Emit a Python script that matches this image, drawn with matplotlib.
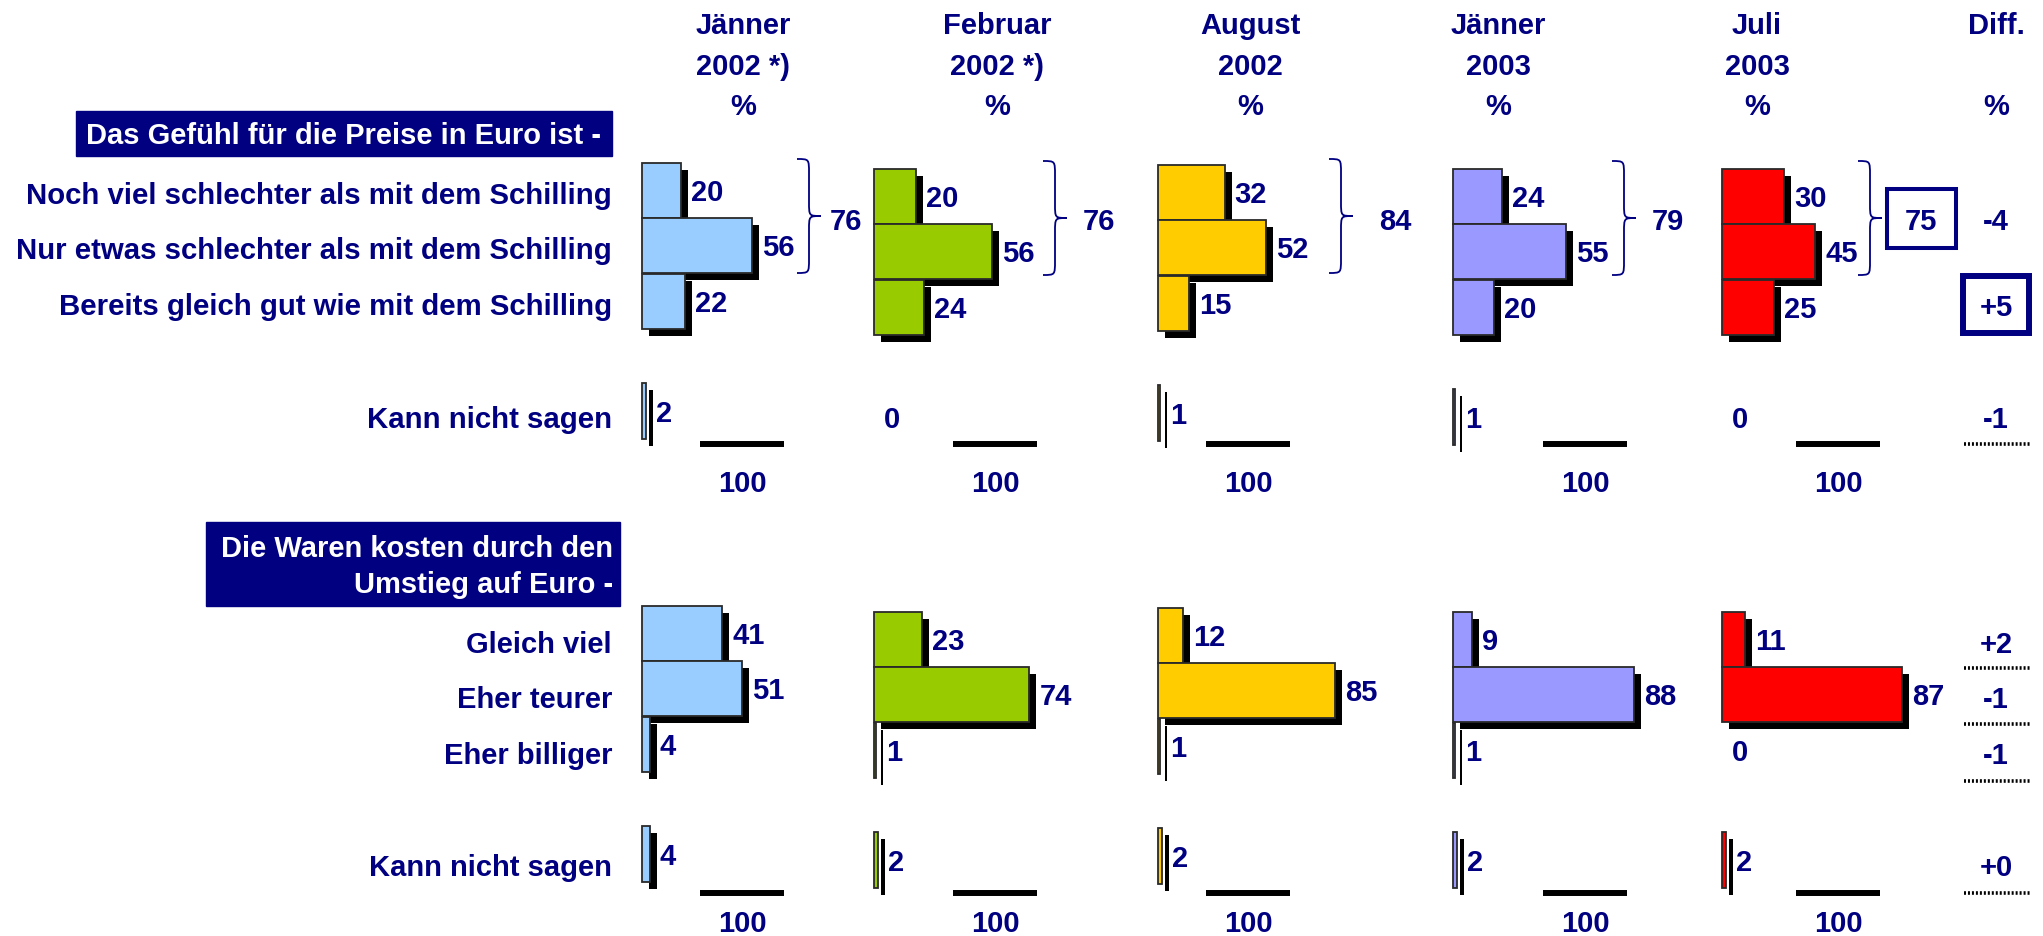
import matplotlib.pyplot as plt
from matplotlib.patches import Rectangle, PathPatch
from matplotlib.path import Path

plt.rcParams['font.family'] = ['Liberation Sans', 'DejaVu Sans']
plt.rcParams['font.weight'] = 'bold'
plt.rcParams['font.size'] = 21

NAVY = '#000080'

# survey waves
months = ["Jänner", "Februar", "August", "Jänner", "Juli"]
years = ["2002 *)", "2002 *)", "2002", "2003", "2003"]
colors = ["#99CCFF", "#99CC00", "#FFCC00", "#9999FF", "#FF0000"]

# "Das Gefühl für die Preise in Euro ist -"
feel_labels = ["Noch viel schlechter als mit dem Schilling",
               "Nur etwas schlechter als mit dem Schilling",
               "Bereits gleich gut wie mit dem Schilling"]
feel_jan02 = [20, 56, 22]
feel_feb02 = [20, 56, 24]
feel_aug02 = [32, 52, 15]
feel_jan03 = [24, 55, 20]
feel_jul03 = [30, 45, 25]
feel_unsure = [2, 0, 1, 1, 0]

# "Die Waren kosten durch den Umstieg auf Euro -"
cost_labels = ["Gleich viel", "Eher teurer", "Eher billiger"]
cost_jan02 = [41, 51, 4]
cost_feb02 = [23, 74, 1]
cost_aug02 = [12, 85, 1]
cost_jan03 = [9, 88, 1]
cost_jul03 = [11, 87, 0]
cost_unsure = [4, 2, 2, 2, 2]

feel = [feel_jan02, feel_feb02, feel_aug02, feel_jan03, feel_jul03]
cost = [cost_jan02, cost_feb02, cost_aug02, cost_jan03, cost_jul03]

# page layout, in pixels
W, H = 2043, 936
x0 = [642, 874, 1158, 1453, 1722]      # bar origin per wave
dy = [-6, 0, -4, 0, 0]                 # small vertical offset per wave
px = [1.96, 2.1, 2.08, 2.06, 2.07]     # pixels per percent
head_x = [743, 997, 1250, 1498, 1757]
hundred_x = [742, 995, 1248, 1585, 1838]
brace_x = [797, 1043, 1329, 1612, 1858]
sum_x = [846, 1099, 1395, 1668, 1921]
diff_x = 1996

feel_rows = [196, 251, 307]
feel_unsure_row = 417
cost_rows = [639, 694, 750]
cost_unsure_row = 860
feel_label_y = [193, 248, 304, 417]
cost_label_y = [642, 697, 753, 865]
label_right = 612
SH = 7  # shadow offset

fig = plt.figure(figsize=(W / 100, H / 100), dpi=100)
ax = fig.add_axes([0, 0, 1, 1])
ax.set_xlim(0, W)
ax.set_ylim(H, 0)
ax.axis('off')


def txt(x, y, s, ha='center', color=NAVY, size=21, **kw):
    ax.text(x, y, s, ha=ha, va='center_baseline', color=color,
            fontweight='bold', fontsize=size, **kw)


def draw_bars(i, values, rows, height):
    for v, y in zip(values, rows):
        y = y + dy[i]
        w = v * px[i]
        if v > 0:
            ax.barh(y + SH, w, height=height, left=x0[i] + SH,
                    color='black', zorder=1)
            ax.barh(y, w, height=height, left=x0[i], color=colors[i],
                    edgecolor='#2a2a2a', linewidth=1.3, zorder=2)
        txt(x0[i] + w + 10, y, str(v), ha='left')


def brace(x, top, bottom, width=24, r=14):
    xm = x + width * 0.5
    xp = x + width
    mid = (top + bottom) / 2
    verts = [(x, top), (xm, top), (xm, top), (xm, top + r),
             (xm, mid - r),
             (xm, mid), (xm, mid), (xp, mid),
             (xm, mid), (xm, mid), (xm, mid + r),
             (xm, bottom - r),
             (xm, bottom), (xm, bottom), (x, bottom)]
    codes = [Path.MOVETO, Path.CURVE4, Path.CURVE4, Path.CURVE4,
             Path.LINETO,
             Path.CURVE4, Path.CURVE4, Path.CURVE4,
             Path.CURVE4, Path.CURVE4, Path.CURVE4,
             Path.LINETO,
             Path.CURVE4, Path.CURVE4, Path.CURVE4]
    ax.add_patch(PathPatch(Path(verts, codes), fill=False,
                           edgecolor=NAVY, linewidth=1.3, zorder=3))


# column headers
for i in range(5):
    txt(head_x[i], 23, months[i])
    txt(head_x[i], 64, years[i])
    txt(head_x[i], 104, "%")
txt(diff_x, 23, "Diff.")
txt(diff_x, 104, "%")

# section titles
ax.add_patch(Rectangle((76, 111), 536, 45, color=NAVY, zorder=1))
txt(344, 133, "Das Gefühl für die Preise in Euro ist -", color='white')
ax.add_patch(Rectangle((206, 522), 414, 84, color=NAVY, zorder=1))
txt(613, 546, "Die Waren kosten durch den", ha='right', color='white')
txt(613, 582, "Umstieg auf Euro -", ha='right', color='white')

# row labels
for s, y in zip(feel_labels + ["Kann nicht sagen"], feel_label_y):
    txt(label_right, y, s, ha='right', size=21.2)
for s, y in zip(cost_labels + ["Kann nicht sagen"], cost_label_y):
    txt(label_right, y, s, ha='right')

for i in range(5):
    draw_bars(i, feel[i], feel_rows, 55)
    draw_bars(i, [feel_unsure[i]], [feel_unsure_row], 56)
    draw_bars(i, cost[i], cost_rows, 55)
    draw_bars(i, [cost_unsure[i]], [cost_unsure_row], 56)

    # brace over the two "schlechter" rows with their sum
    brace(brace_x[i], 161 + dy[i] // 3, 275 + dy[i] // 3)
    txt(sum_x[i], 219, str(sum(feel[i][:2])))

    # totals
    total_feel = sum(feel[i]) + feel_unsure[i]
    total_cost = sum(cost[i]) + cost_unsure[i]
    ax.plot([hundred_x[i] - 42, hundred_x[i] + 42], [444, 444],
            color='black', linewidth=4.3, solid_capstyle='butt')
    txt(hundred_x[i], 481, str(total_feel))
    ax.plot([hundred_x[i] - 42, hundred_x[i] + 42], [893, 893],
            color='black', linewidth=4.3, solid_capstyle='butt')
    txt(hundred_x[i], 921, str(total_cost))

# box round the latest sum
ax.add_patch(Rectangle((1887, 189), 69, 59, fill=False,
                       edgecolor=NAVY, linewidth=2.9, zorder=3))

# difference column: latest wave minus the one before
def diff(a, b):
    return f"{a - b:+d}"


txt(diff_x, 219, diff(sum(feel_jul03[:2]), sum(feel_jan03[:2])))
txt(diff_x, 305, diff(feel_jul03[2], feel_jan03[2]))
ax.add_patch(Rectangle((1963, 276), 66, 57, fill=False,
                       edgecolor=NAVY, linewidth=4.3, zorder=3))

dotted = []
txt(diff_x, 417, diff(feel_unsure[4], feel_unsure[3]))
dotted.append(444)
for k, y in enumerate(cost_label_y[:3]):
    txt(diff_x, y, diff(cost_jul03[k], cost_jan03[k]))
dotted += [668, 724, 781]
txt(diff_x, 865, diff(cost_unsure[4], cost_unsure[3]))
dotted.append(893)
for y in dotted:
    ax.plot([1964, 2031], [y, y], color='black', linewidth=2.6,
            linestyle=(0, (0.55, 0.55)), solid_capstyle='butt',
            dash_capstyle='butt')

fig.savefig("out.png", dpi=100)
